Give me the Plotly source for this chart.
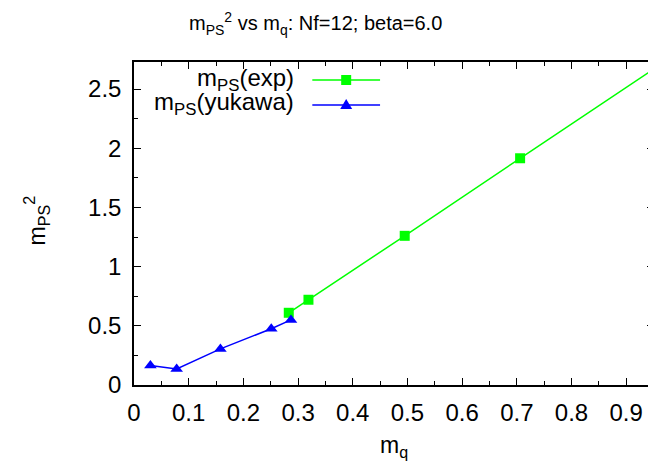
import plotly.graph_objects as go

# data
mq_exp = [0.283, 0.319, 0.495, 0.706, 0.949]
mps2_exp = [0.61, 0.72, 1.26, 1.915, 2.665]

mq_yuk = [0.030, 0.078, 0.158, 0.251, 0.287]
mps2_yuk = [0.165, 0.135, 0.305, 0.475, 0.55]

x_ticks = [0, 0.1, 0.2, 0.3, 0.4, 0.5, 0.6, 0.7, 0.8, 0.9]
y_ticks = [0, 0.5, 1, 1.5, 2, 2.5]

FONT = "Liberation Sans"
GREEN = "#00ff00"
BLUE = "#0000ff"

# page has an 8px body margin; figure positioned accordingly
OFF = 8
PAGE_W, PAGE_H = 656, 461
W, H = PAGE_W - OFF, PAGE_H - OFF
L, R, T, B = 134 - OFF, 0, 62 - OFF, 76
pw, ph = W - L - R, H - T - B


def px(xp):
    return (xp - OFF - L) / pw


def py(yp):
    return (H - B - (yp - OFF)) / ph


fig = go.Figure()
fig.add_trace(go.Scatter(x=mq_exp, y=mps2_exp, mode="lines+markers",
                         line=dict(color=GREEN, width=1.5),
                         marker=dict(symbol="square", size=10, color=GREEN),
                         cliponaxis=False, showlegend=False))
fig.add_trace(go.Scatter(x=mq_yuk, y=mps2_yuk, mode="lines+markers",
                         line=dict(color=BLUE, width=1.5),
                         marker=dict(symbol="triangle-up", size=11, color=BLUE),
                         showlegend=False))

axis_common = dict(showline=True, linecolor="black", linewidth=1.5, mirror="ticks",
                   ticks="inside", ticklen=7, tickwidth=1.2, tickcolor="black",
                   showgrid=False, zeroline=False,
                   tickfont=dict(family=FONT, size=24, color="black"))

fig.update_xaxes(range=[0, pw / 549.0], tickvals=x_ticks,
                 ticktext=[("%g" % v) for v in x_ticks],
                 minor=dict(ticks="inside", ticklen=4, dtick=0.05, tickcolor="black", tickwidth=1.2),
                 ticklabelstandoff=5, **axis_common)
fig.update_yaxes(range=[0, ph / 118.4], tickvals=y_ticks,
                 ticktext=[("%g" % v) for v in y_ticks],
                 minor=dict(ticks="inside", ticklen=4, dtick=0.25, tickcolor="black", tickwidth=1.2),
                 ticklabelstandoff=6, **axis_common)

annotations = [
    dict(text="m<sub>PS</sub><sup>2</sup> vs m<sub>q</sub>: Nf=12; beta=6.0",
         xref="paper", yref="paper", x=px(316), y=py(24), xanchor="center", yanchor="middle",
         showarrow=False, font=dict(family=FONT, size=20, color="black")),
    dict(text="m<sub>q</sub>", xref="paper", yref="paper", x=px(395), y=py(446),
         xanchor="center", yanchor="middle", showarrow=False,
         font=dict(family=FONT, size=23, color="black")),
    dict(text="m<sub>PS</sub><sup>2</sup>", xref="paper", yref="paper", x=px(36), y=py(220),
         xanchor="center", yanchor="middle", textangle=-90, showarrow=False,
         font=dict(family=FONT, size=23, color="black")),
    dict(text="m<sub>PS</sub>(exp)", xref="paper", yref="paper", x=px(297), y=py(79),
         xanchor="right", yanchor="middle", showarrow=False,
         font=dict(family=FONT, size=24, color="black")),
    dict(text="m<sub>PS</sub>(yukawa)", xref="paper", yref="paper", x=px(297), y=py(104),
         xanchor="right", yanchor="middle", showarrow=False,
         font=dict(family=FONT, size=24, color="black")),
]

shapes = [
    dict(type="line", xref="paper", yref="paper", x0=px(313), x1=px(381), y0=py(80), y1=py(80),
         line=dict(color=GREEN, width=1.5)),
    dict(type="rect", xref="paper", yref="paper", xsizemode="pixel", ysizemode="pixel",
         xanchor=px(347), yanchor=py(80), x0=-5, x1=5, y0=-5, y1=5,
         fillcolor=GREEN, line=dict(width=0)),
    dict(type="line", xref="paper", yref="paper", x0=px(313), x1=px(381), y0=py(105), y1=py(105),
         line=dict(color=BLUE, width=1.5)),
    dict(type="path", xref="paper", yref="paper", xsizemode="pixel", ysizemode="pixel",
         xanchor=px(347), yanchor=py(105), path="M -6 -4 L 6 -4 L 0 6 Z",
         fillcolor=BLUE, line=dict(width=0)),
]

fig.update_layout(width=W, height=H, margin=dict(l=L, r=R, t=T, b=B),
                  paper_bgcolor="white", plot_bgcolor="white",
                  annotations=annotations, shapes=shapes, showlegend=False)

fig.write_html("out.html")
